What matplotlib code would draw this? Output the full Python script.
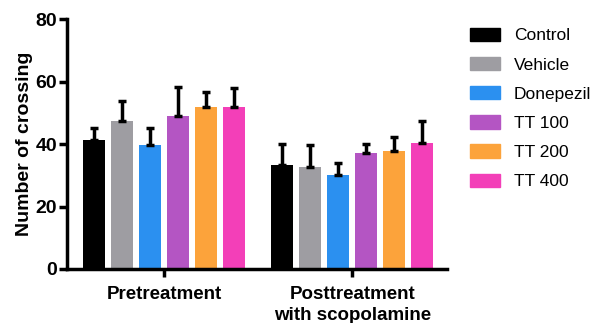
import matplotlib
matplotlib.use("Agg")
import matplotlib.pyplot as plt
import numpy as np
from matplotlib.patches import Patch

groups = ["Pretreatment", "Posttreatment\nwith scopolamine"]
series = ["Control", "Vehicle", "Donepezil", "TT 100", "TT 200", "TT 400"]
means = {
    "Control":   [41.3, 33.3],
    "Vehicle":   [47.4, 32.8],
    "Donepezil": [39.8, 30.2],
    "TT 100":    [49.1, 37.2],
    "TT 200":    [51.9, 37.9],
    "TT 400":    [52.0, 40.4],
}
errors = {
    "Control":   [3.7, 6.7],
    "Vehicle":   [6.4, 7.0],
    "Donepezil": [5.2, 3.8],
    "TT 100":    [9.0, 2.9],
    "TT 200":    [4.6, 4.3],
    "TT 400":    [6.0, 7.1],
}
colors = ["#000000", "#9e9da2", "#2b90f0", "#b455c3", "#fca33b", "#f33fb8"]
yticks = [0, 20, 40, 60, 80]

plt.rcParams['font.family'] = ['Liberation Sans', 'DejaVu Sans']

fig = plt.figure(figsize=(5.94, 3.23), dpi=100)
ax = fig.add_axes([0.1128, 0.1672, 0.64, 0.7738])

x = np.arange(len(groups))
pitch = 0.149
width = 0.119
for i, s in enumerate(series):
    pos = x + (i - 2.5) * pitch
    ax.bar(pos, means[s], width=width, color=colors[i], zorder=2)
    ax.errorbar(pos, means[s], yerr=[np.zeros(len(groups)), errors[s]],
                fmt='none', ecolor='black', elinewidth=2.5, capsize=3,
                capthick=2.5, zorder=3)

ax.set_xlim(-0.516, 1.505)
ax.set_ylim(0, 80)
ax.set_yticks(yticks)
ax.set_xticks(x)
ax.set_xticklabels(groups, fontsize=13.5, fontweight='bold', linespacing=1.35)
ax.set_yticklabels([str(t) for t in yticks], fontsize=14, fontweight='bold')
ax.set_ylabel("Number of crossing", fontsize=14, fontweight='bold', labelpad=2)
for sp in ['top', 'right']:
    ax.spines[sp].set_visible(False)
for sp in ['left', 'bottom']:
    ax.spines[sp].set_linewidth(2.5)
ax.tick_params(axis='both', width=2.5, length=6, pad=1)
ax.tick_params(axis='x', pad=6)

handles = [Patch(facecolor=c, edgecolor=c, label=s) for c, s in zip(colors, series)]
fig.legend(handles=handles, loc='upper left', bbox_to_anchor=(0.779, 0.936),
           frameon=False, fontsize=12.5, handlelength=1.75, handleheight=0.8,
           labelspacing=0.78, handletextpad=0.8, borderaxespad=0)

fig.savefig("out.png", dpi=100)
